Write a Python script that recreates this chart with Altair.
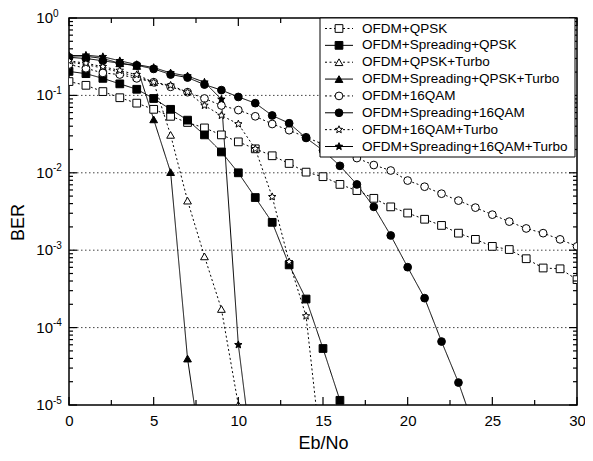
import altair as alt
import pandas as pd

FONT = "Liberation Sans"
W, H = 508, 387

series = [
    "OFDM+QPSK",
    "OFDM+Spreading+QPSK",
    "OFDM+QPSK+Turbo",
    "OFDM+Spreading+QPSK+Turbo",
    "OFDM+16QAM",
    "OFDM+Spreading+16QAM",
    "OFDM+16QAM+Turbo",
    "OFDM+Spreading+16QAM+Turbo",
]

# --- series values (Eb/No in dB, BER) ---
x_qpsk = list(range(0, 31))
ber_qpsk = [0.151, 0.135, 0.112, 0.0933, 0.0794, 0.0661, 0.0537, 0.0447, 0.0380, 0.0309,
            0.0251, 0.0204, 0.0166, 0.0132, 0.0102, 0.00891, 0.00708, 0.00589, 0.00468, 0.00363,
            0.00302, 0.00251, 0.00209, 0.00166, 0.00138, 0.00112, 0.00102, 0.000776, 0.000589,
            0.000575, 0.000417]

x_sp_qpsk = list(range(0, 17))
ber_sp_qpsk = [0.204, 0.191, 0.166, 0.141, 0.120, 0.0912, 0.0661, 0.0479, 0.0309, 0.0186,
               0.0100, 0.00479, 0.00229, 0.000646, 0.000234, 5.37e-5, 1.15e-5]

x_qpsk_t = list(range(0, 11))
ber_qpsk_t = [0.27, 0.25, 0.225, 0.20, 0.174, 0.148, 0.0309, 0.00437, 0.000832, 0.000174, 1.0e-5]

x_sp_qpsk_t = list(range(0, 9))
ber_sp_qpsk_t = [0.33, 0.32, 0.30, 0.26, 0.24, 0.049, 0.0102, 3.98e-5, 1.3e-6]

x_16 = list(range(0, 31))
ber_16 = [0.251, 0.224, 0.195, 0.186, 0.166, 0.148, 0.129, 0.110, 0.0912, 0.0741,
          0.0646, 0.0537, 0.0427, 0.0355, 0.0288, 0.0234, 0.0191, 0.0155, 0.0126, 0.0107,
          0.00794, 0.00661, 0.00537, 0.00437, 0.00355, 0.00288, 0.00234, 0.00191, 0.00166,
          0.00138, 0.00112]

x_sp_16 = list(range(0, 25))
ber_sp_16 = [0.31, 0.30, 0.28, 0.26, 0.245, 0.22, 0.186, 0.17, 0.138, 0.117,
             0.0955, 0.0794, 0.0550, 0.0437, 0.0282, 0.0195, 0.0123, 0.00708, 0.00363, 0.00155,
             0.000603, 0.000240, 6.61e-5, 1.95e-5, 4.6e-6]

x_16_t = list(range(0, 16))
ber_16_t = [0.28, 0.26, 0.235, 0.21, 0.185, 0.148, 0.135, 0.110, 0.0741, 0.055,
            0.0427, 0.0204, 0.0049, 0.000708, 0.000141, 1.5e-6]

x_sp_16_t = list(range(0, 12))
ber_sp_16_t = [0.32, 0.33, 0.316, 0.28, 0.25, 0.229, 0.195, 0.178, 0.148, 0.089, 6.0e-5, 1.07e-6]

x_lists = [x_qpsk, x_sp_qpsk, x_qpsk_t, x_sp_qpsk_t, x_16, x_sp_16, x_16_t, x_sp_16_t]
y_lists = [ber_qpsk, ber_sp_qpsk, ber_qpsk_t, ber_sp_qpsk_t, ber_16, ber_sp_16, ber_16_t, ber_sp_16_t]

x_major = [0, 5, 10, 15, 20, 25, 30]
x_minor = [2.5, 7.5, 12.5, 17.5, 22.5, 27.5]
y_exps = [0, -1, -2, -3, -4, -5]
y_major = [1, 0.1, 0.01, 0.001, 0.0001, 0.00001]
y_grid = [0.1, 0.01, 0.001, 0.0001]
y_minor = [k * d for d in [1e-5, 1e-4, 1e-3, 1e-2, 1e-1] for k in range(2, 10)]

# --- styles ---
STAR = ("M0,-1L0.26,-0.36L0.951,-0.309L0.42,0.137L0.588,0.809L0,0.44"
        "L-0.588,0.809L-0.42,0.137L-0.951,-0.309L-0.26,-0.36Z")
shapes = ["square", "square", "triangle-up", "triangle-up", "circle", "circle", STAR, STAR]
fills = ["white", "black"] * 4
DOT = [2, 2.5]
SOLID = [1, 0]
dashes = [DOT, SOLID] * 4
sizes = [60, 60, 90, 90, 65, 65, 100, 100]

rows = []
for name, xs, ys in zip(series, x_lists, y_lists):
    for xv, yv in zip(xs, ys):
        rows.append({"series": name, "ebno": xv, "ber": yv})
df = pd.DataFrame(rows)

xscale = alt.Scale(domain=[0, 30], nice=False, zero=False)
yscale = alt.Scale(type="log", domain=[1e-5, 1], nice=False)
shape_enc = alt.Shape("series:N", scale=alt.Scale(domain=series, range=shapes), legend=None)
fill_enc = alt.Fill("series:N", scale=alt.Scale(domain=series, range=fills), legend=None)
dash_enc = alt.StrokeDash("series:N", scale=alt.Scale(domain=series, range=dashes), legend=None)
size_enc = alt.Size("series:N", scale=alt.Scale(domain=series, range=sizes), legend=None)

x_axis = alt.Axis(values=x_major, format="d", labelFont=FONT, labelFontSize=15, labelColor="black",
                  labelBaseline="alphabetic", labelPadding=20, labelFlush=False, labelOverlap=False,
                  ticks=False, tickSize=0, domain=False, grid=False,
                  title="Eb/No", titleFont=FONT, titleFontSize=18, titleFontWeight="normal",
                  titleColor="black", titleBaseline="alphabetic", titleY=43)
y_axis = alt.Axis(labels=False, ticks=False, tickSize=0, domain=False, grid=False,
                  title="BER", titleFont=FONT, titleFontSize=18, titleFontWeight="normal",
                  titleColor="black", titleAngle=270, titleAlign="center", titleBaseline="middle",
                  titleX=-51, titleY=204)

# grid
grid = alt.Chart(pd.DataFrame({"v": y_grid})).mark_rule(
    color="#444", strokeWidth=1, strokeDash=[1.5, 2.5]
).encode(y=alt.Y("v:Q", scale=yscale, axis=None), x=alt.value(0), x2=alt.value(W))

lines = alt.Chart(df).mark_line(clip=True, color="black", strokeWidth=1).encode(
    x=alt.X("ebno:Q", scale=xscale, axis=x_axis),
    y=alt.Y("ber:Q", scale=yscale, axis=y_axis),
    detail="series:N",
    strokeDash=dash_enc,
    order="ebno:Q",
)

points = alt.Chart(df).mark_point(clip=True, filled=True, stroke="black", strokeWidth=1, opacity=1).encode(
    x=alt.X("ebno:Q", scale=xscale, axis=None),
    y=alt.Y("ber:Q", scale=yscale, axis=None),
    shape=shape_enc, fill=fill_enc, size=size_enc,
)

def yticks(vals, length, side):
    x1, x2 = (0, length) if side == "left" else (W - length, W)
    return alt.Chart(pd.DataFrame({"v": vals})).mark_rule(color="black", strokeWidth=1.2).encode(
        y=alt.Y("v:Q", scale=yscale, axis=None), x=alt.value(x1), x2=alt.value(x2))

def xticks(vals, length, side):
    y1, y2 = (H - length, H) if side == "bottom" else (0, length)
    return alt.Chart(pd.DataFrame({"v": vals})).mark_rule(color="black", strokeWidth=1.2).encode(
        x=alt.X("v:Q", scale=xscale, axis=None), y=alt.value(y1), y2=alt.value(y2))

ticks = [
    yticks(y_major, 8, "left"), yticks(y_minor, 4, "left"),
    yticks(y_major, 8, "right"), yticks(y_minor, 4, "right"),
    xticks(x_major, 8, "bottom"), xticks(x_minor, 5, "bottom"),
    xticks(x_major, 8, "top"), xticks(x_minor, 5, "top"),
]

# y labels 10^e
ylab_df = pd.DataFrame({"v": y_major, "exp": [str(e) for e in y_exps]})
ylab_base = alt.Chart(ylab_df).mark_text(
    align="right", baseline="middle", font=FONT, fontSize=15, color="black"
).encode(y=alt.Y("v:Q", scale=yscale, axis=None), x=alt.value(-16), text=alt.value("10"))
ylab_exp = alt.Chart(ylab_df).mark_text(
    align="left", baseline="middle", font=FONT, fontSize=10, color="black", dy=-4.5
).encode(y=alt.Y("v:Q", scale=yscale, axis=None), x=alt.value(-16), text="exp:N")

# legend
leg_box = alt.Chart(pd.DataFrame({"a": [0]})).mark_rect(
    fill="white", stroke="black", strokeWidth=1
).encode(x=alt.value(251), x2=alt.value(506), y=alt.value(0), y2=alt.value(139))

ldf = pd.DataFrame({"series": series})
lscale = alt.Scale(type="point", domain=series, range=[10.5, 128.5], padding=0)
leg_lines = alt.Chart(ldf).mark_rule(color="black", strokeWidth=1).encode(
    y=alt.Y("series:N", scale=lscale, axis=None), x=alt.value(256), x2=alt.value(284),
    strokeDash=dash_enc)
leg_pts = alt.Chart(ldf).mark_point(filled=True, stroke="black", strokeWidth=1, opacity=1).encode(
    y=alt.Y("series:N", scale=lscale, axis=None), x=alt.value(270),
    shape=shape_enc, fill=fill_enc, size=size_enc)
leg_text = alt.Chart(ldf).mark_text(
    align="left", baseline="middle", font=FONT, fontSize=13.5, color="black"
).encode(y=alt.Y("series:N", scale=lscale, axis=None), x=alt.value(293), text="series:N")

chart = alt.layer(
    grid, lines, points, *ticks, leg_box, leg_lines, leg_pts, leg_text, ylab_base, ylab_exp
).resolve_scale(
    x="independent", y="independent"
).properties(
    width=W, height=H,
    autosize=alt.AutoSizeParams(type="none"),
    padding={"left": 61, "top": 10, "right": 8, "bottom": 48},
).configure_view(stroke="black", strokeWidth=1.5)

chart.save("out.html", embed_options={"renderer": "svg", "actions": False})
